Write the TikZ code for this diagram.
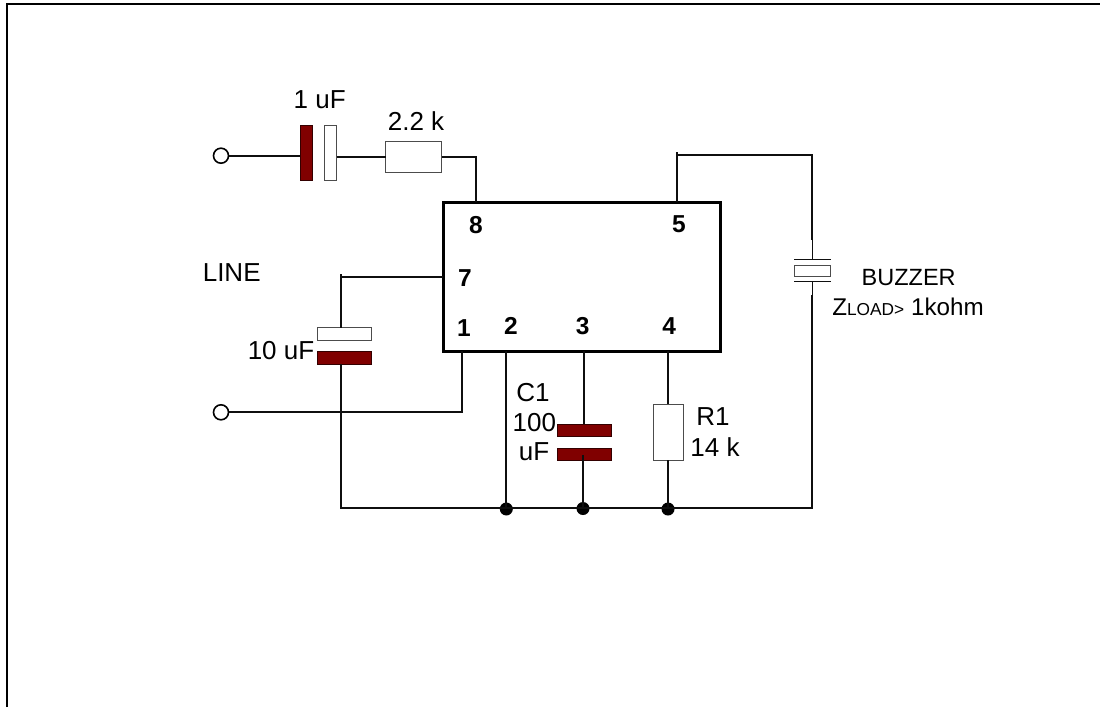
\documentclass[tikz,border=0pt]{standalone}
\usepackage{fontspec}
\setmainfont{Liberation Sans}
\definecolor{plate}{RGB}{128,0,0}
\definecolor{wirecol}{RGB}{15,15,15}
\tikzset{
  lbl/.style={anchor=base,inner sep=0pt,outer sep=0pt,font=\fontsize{26}{30}\selectfont},
  pinlbl/.style={anchor=base,inner sep=0pt,outer sep=0pt,font=\fontsize{24.5}{28}\selectfont\bfseries},
  wire/.style={draw=wirecol,line width=2.2pt},
  thinw/.style={draw=wirecol,line width=1pt},
  part/.style={rectangle,draw=black!70,line width=1pt,fill=white,inner sep=0pt,outer sep=0pt},
  dark/.style={part,draw=black!60!plate,fill=plate},
  term/.style={circle,draw=black,line width=1.6pt,fill=white,minimum size=15pt,inner sep=0pt,outer sep=0pt},
  dotn/.style={circle,fill=black,minimum size=13pt,inner sep=0pt,outer sep=0pt},
  chip/.style={rectangle,draw=black,line width=3pt,fill=white,inner sep=0pt,outer sep=0pt,minimum width=276.5pt,minimum height=149pt}
}
\begin{document}
\begin{tikzpicture}[x=1pt,y=-1pt]
\useasboundingbox (0,0) rectangle (1100,707);
% frame
\coordinate (fa) at (7,707); \coordinate (fb) at (7,3.5); \coordinate (fc) at (1100,3.5);
\draw[black,line width=2pt] (fa) -- (fb) -- (fc);
% parts
\node[chip] (ic) at (582,276.5) {};
\node[term] (t1) at (221,155.7) {};
\node[term] (t2) at (221,412.3) {};
\node[dark,minimum width=12.4pt,minimum height=54.7pt] (c1a) at (306.5,153.3) {};
\node[part,minimum width=12.4pt,minimum height=54.7pt] (c1b) at (330.5,153.3) {};
\node[part,minimum width=56pt,minimum height=30.3pt] (r22) at (413.7,157) {};
\node[part,minimum width=54.4pt,minimum height=12.6pt] (c10a) at (344.5,334) {};
\node[dark,minimum width=54.4pt,minimum height=12.6pt] (c10b) at (344.5,358) {};
\node[dark,minimum width=54.4pt,minimum height=12.6pt] (c100a) at (584.5,430.3) {};
\node[dark,minimum width=54.4pt,minimum height=12.6pt] (c100b) at (584.5,454.3) {};
\node[part,minimum width=30.4pt,minimum height=56pt] (r14) at (668.5,432) {};
\node[part,minimum width=36pt,minimum height=10.7pt] (buz) at (812.5,270.7) {};
% buzzer electrodes
\coordinate (bu1) at (794.3,259.3); \coordinate (bu2) at (830.7,259.3);
\coordinate (bl1) at (794.3,281.6); \coordinate (bl2) at (830.7,281.6);
\draw[thinw] (bu1) -- (bu2);
\draw[thinw] (bl1) -- (bl2);
% junction points
\coordinate (p8) at (476,202);
\coordinate (p5) at (677.3,202);
\coordinate (p5s) at (677.3,152);
\coordinate (p5t) at (677.3,155);
\coordinate (bt) at (812.2,155);
\coordinate (bm1) at (812.2,240);
\coordinate (bm2) at (812.2,259.3);
\coordinate (bm3) at (812.2,281.6);
\coordinate (bm4) at (812.2,295);
\coordinate (p7) at (443,276.7);
\coordinate (p7c) at (341.3,276.7);
\coordinate (p7s) at (341.3,274);
\coordinate (p1) at (461.7,351);
\coordinate (g0) at (341.3,508);
\coordinate (g1) at (812.2,508);
\coordinate (c10t) at (341.3,327.7);
\coordinate (c10m) at (341.3,364.3);
\node[dotn] (d2) at (506.3,509) {};
\node[dotn] (d3) at (583,508.5) {};
\node[dotn] (d4) at (668,509) {};
\coordinate (p2) at (506.3,351);
\coordinate (p3) at (584,351);
\coordinate (p3c) at (584,424);
\coordinate (p3d) at (583,455);
\coordinate (p4) at (668,351);
% connectors
\draw[wire] (t1.east) -- (c1a.west |- t1.east);
\draw[wire] (c1b.east |- r22.west) -- (r22.west);
\draw[wire] (r22.east) -| (p8);
\draw[wire] (p5) -- (p5s);
\draw[wire] (p5t) -- (bt) -- (bm1);
\draw[thinw] (bm1) -- (bm2);
\draw[thinw] (bm3) -- (bm4);
\draw[wire] (bm4) -- (g1) -- (g0) -- (c10m);
\draw[wire] (p7) -- (p7c);
\draw[wire] (p7s) -- (c10t);
\draw[wire] (t2.east) -- (t2.east -| p1) -- (p1);
\draw[wire] (p2) -- (d2.center);
\draw[wire] (p3) -- (p3c);
\draw[wire] (p3d) -- (d3.center);
\draw[wire] (p4) -- (r14.north -| p4);
\draw[wire] (r14.south -| p4) -- (d4.center);
% labels
\node[lbl] (l1) at (319.7,108) {1 uF};
\node[lbl] (l2) at (416,130) {2.2 k};
\node[lbl] (l3) at (231.7,281.7) {LINE};
\node[lbl] (l4) at (281,359.3) {10 uF};
\node[lbl] (l5) at (533,401.7) {C1};
\node[lbl] (l6) at (534.3,431) {100};
\node[lbl] (l7) at (534,460) {uF};
\node[lbl] (l8) at (713,425) {R1};
\node[lbl] (l9) at (715,456.7) {14 k};
\node[lbl,font=\fontsize{23.5}{27}\selectfont] (l10) at (908.7,285.7) {BUZZER};
\node[lbl,font=\fontsize{24.2}{28}\selectfont] (l11) at (908,315) {Z{\fontsize{17.3}{20}\selectfont LOAD>} 1kohm};
\node[pinlbl] (n8) at (476,233) {8};
\node[pinlbl] (n5) at (679,232.7) {5};
\node[pinlbl] (n7) at (465,286.7) {7};
\node[pinlbl] (n1) at (464,336.7) {1};
\node[pinlbl] (n2) at (511,334.7) {2};
\node[pinlbl] (n3) at (582.7,334.7) {3};
\node[pinlbl] (n4) at (669.3,334.7) {4};
\end{tikzpicture}
\end{document}
